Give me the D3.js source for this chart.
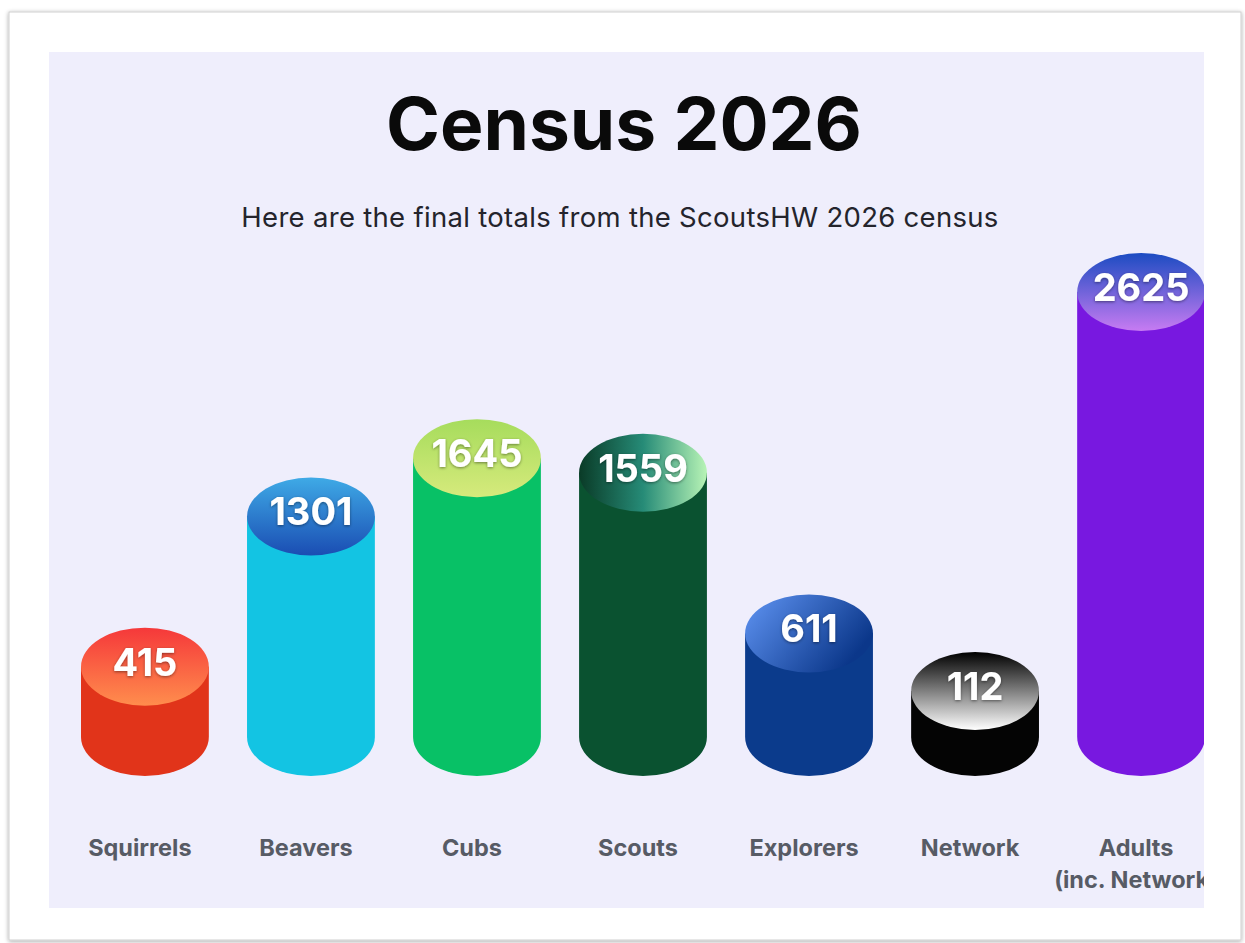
<!DOCTYPE html>
<html>
<head>
<meta charset="utf-8">
<script src="https://cdn.jsdelivr.net/npm/d3@7"></script>
<style>
  body { margin: 0; background: #ffffff; }
  svg { display: block; font-family: Inter, "Noto Sans", sans-serif; }
</style>
</head>
<body>
<div id="chart"></div>
<script>
const categories = ["Squirrels", "Beavers", "Cubs", "Scouts", "Explorers", "Network", "Adults"];
const labelLines = [["Squirrels"], ["Beavers"], ["Cubs"], ["Scouts"], ["Explorers"], ["Network"], ["Adults", "(inc. Network)"]];
const values = [415, 1301, 1645, 1559, 611, 112, 2625];

const bodyColors = ["#e1341a", "#13c4e3", "#08c166", "#0a5230", "#0b3b8c", "#040404", "#7818e0"];
const topStops = [
    ["#f5383a", "#ff8d4d"],
    ["#3faae6", "#1a4db3"],
    ["#a6dc5c", "#d6ea7c"],
    ["#0a3b27", "#268b77", "#b8f4b6"],
    ["#6095f4", "#0b378a"],
    ["#000000", "#ffffff"],
    ["#1c4cc2", "#c77bf2"]
];
// true = gradient runs left to right across the top face
const topHorizontal = [false, false, false, true, true, false, false];

const width = 1245, height = 943;
const panel = { x: 49, y: 52, w: 1155, h: 856 };
const base = 737;     // centre of the bottom ellipse
const ry = 39;
const minBody = 46;   // the small Network bar is drawn taller than its value

const svg = d3.select("#chart")
    .append("svg")
    .attr("width", width)
    .attr("height", height);

const defs = svg.append("defs");

const cardShadow = defs.append("filter").attr("id", "card-shadow")
    .attr("x", "-5%").attr("y", "-5%").attr("width", "110%").attr("height", "110%");
cardShadow.append("feDropShadow")
    .attr("dx", 0).attr("dy", 1).attr("stdDeviation", 2)
    .attr("flood-color", "#000").attr("flood-opacity", 0.35);

const textShadow = defs.append("filter").attr("id", "text-shadow")
    .attr("x", "-20%").attr("y", "-20%").attr("width", "140%").attr("height", "140%");
textShadow.append("feDropShadow")
    .attr("dx", 0).attr("dy", 1).attr("stdDeviation", 1.5)
    .attr("flood-color", "#000").attr("flood-opacity", 0.45);

defs.append("clipPath").attr("id", "panel-clip")
    .append("rect")
    .attr("x", panel.x).attr("y", panel.y)
    .attr("width", panel.w).attr("height", panel.h);

topStops.forEach((stops, i) => {
    const g = defs.append("linearGradient")
        .attr("id", "top-" + i)
        .attr("x1", "0%").attr("y1", "0%")
        .attr("x2", topHorizontal[i] ? "100%" : "0%")
        .attr("y2", topHorizontal[i] ? (i === 4 ? "50%" : "0%") : "100%");
    g.selectAll("stop")
        .data(stops)
        .enter().append("stop")
        .attr("offset", (d, j) => (j / (stops.length - 1)) * 100 + "%")
        .attr("stop-color", d => d);
});

// white card with soft border
svg.append("rect")
    .attr("x", 9).attr("y", 12)
    .attr("width", 1232).attr("height", 928)
    .attr("fill", "#ffffff")
    .attr("stroke", "#cfcfcf")
    .attr("stroke-width", 1)
    .attr("filter", "url(#card-shadow)");

svg.append("rect")
    .attr("x", panel.x).attr("y", panel.y)
    .attr("width", panel.w).attr("height", panel.h)
    .attr("fill", "#efeefc");

svg.append("text")
    .attr("x", 624).attr("y", 150)
    .attr("text-anchor", "middle")
    .attr("font-size", 73)
    .attr("font-weight", 700)
    .attr("fill", "#0a0a0a")
    .text("Census 2026");

svg.append("text")
    .attr("x", 620).attr("y", 227)
    .attr("text-anchor", "middle")
    .attr("font-size", 27.5)
    .attr("letter-spacing", 0.3)
    .attr("fill", "#24242c")
    .text("Here are the final totals from the ScoutsHW 2026 census");

const x = d3.scaleBand()
    .domain(categories)
    .range([81, 1205])
    .paddingInner(0.23)
    .paddingOuter(0);

const h = d3.scaleLinear()
    .domain([0, d3.max(values)])
    .range([0, 445]);

const rx = x.bandwidth() / 2;
const bodyH = v => Math.max(h(v), minBody);

const chart = svg.append("g").attr("clip-path", "url(#panel-clip)");

const bars = chart.selectAll(".bar")
    .data(categories)
    .enter().append("g")
    .attr("class", "bar");

bars.append("path")
    .attr("fill", (d, i) => bodyColors[i])
    .attr("d", (d, i) => {
        const x0 = x(d), x1 = x(d) + x.bandwidth();
        const yTop = base - bodyH(values[i]);
        return `M${x0},${yTop} L${x0},${base} A${rx},${ry} 0 0 0 ${x1},${base} L${x1},${yTop} Z`;
    });

bars.append("ellipse")
    .attr("cx", d => x(d) + rx)
    .attr("cy", (d, i) => base - bodyH(values[i]))
    .attr("rx", rx)
    .attr("ry", ry)
    .attr("fill", (d, i) => `url(#top-${i})`);

bars.append("text")
    .attr("x", d => x(d) + rx)
    .attr("y", (d, i) => base - bodyH(values[i]) - 5)
    .attr("dominant-baseline", "central")
    .attr("text-anchor", "middle")
    .attr("font-size", 38)
    .attr("font-weight", 700)
    .attr("fill", "#ffffff")
    .attr("filter", "url(#text-shadow)")
    .text((d, i) => values[i]);

const labels = chart.selectAll(".cat")
    .data(categories)
    .enter().append("text")
    .attr("class", "cat")
    .attr("text-anchor", "middle")
    .attr("font-size", 23.5)
    .attr("font-weight", 700)
    .attr("fill", "#575b65");

labels.selectAll("tspan")
    .data((d, i) => labelLines[i].map(t => ({ t, cx: x(d) + rx - 5 })))
    .enter().append("tspan")
    .attr("x", d => d.cx)
    .attr("y", (d, j) => 856 + j * 32)
    .text(d => d.t);
</script>
</body>
</html>
